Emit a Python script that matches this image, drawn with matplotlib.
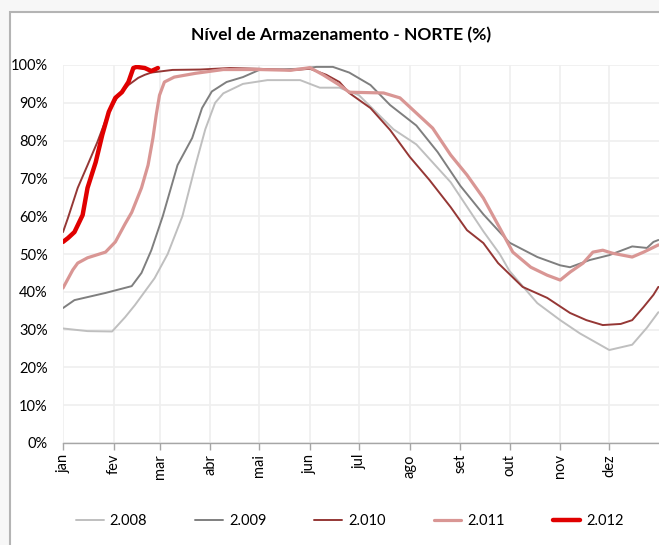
import matplotlib
matplotlib.use("Agg")
import matplotlib.pyplot as plt
from matplotlib.patches import Rectangle
from matplotlib.ticker import FuncFormatter

months = ["jan", "fev", "mar", "abr", "mai", "jun", "jul", "ago", "set", "out", "nov", "dez"]
month_start = [0, 31, 59, 90, 120, 151, 181, 212, 243, 273, 304, 334]

d2008 = [0, 15, 30, 38, 44, 56, 64, 73, 81, 87, 93, 98, 110, 125, 145, 151, 157, 169, 181,
         202, 216, 237, 257, 267, 273, 290, 304, 316, 334, 348, 357, 364]
v2008 = [30.3, 29.6, 29.5, 33.3, 36.5, 43.6, 50, 60, 73.5, 83, 90, 92.5, 95, 96, 96, 95, 94, 94, 92,
         83, 79, 69, 56, 50, 45.5, 37, 32.5, 29, 24.6, 26, 30.5, 34.6]

d2009 = [0, 7, 26, 42, 48, 54, 61, 70, 79, 85, 91, 100, 110, 120, 145, 155, 165, 175, 188,
         200, 216, 229, 243, 257, 267, 273, 290, 304, 310, 322, 334, 348, 357, 361, 364]
v2009 = [35.7, 37.8, 39.7, 41.5, 45, 51, 60, 73.5, 80.7, 88.6, 93, 95.5, 96.8, 98.7, 99, 99.5, 99.5, 98, 94.7,
         89.4, 84, 77, 68, 60.5, 55.8, 53, 49.2, 47, 46.5, 48.4, 49.7, 52, 51.6, 53.2, 53.7]

d2010 = [0, 3, 9, 15, 21, 28, 34, 40, 46, 50, 54, 67, 84, 102, 120, 139, 151, 161, 169, 175,
         188, 200, 212, 224, 237, 247, 257, 266, 281, 296, 310, 320, 330, 341, 348, 355, 361, 364]
v2010 = [55.8, 59.5, 67.5, 73.5, 79.6, 87.6, 92, 94.7, 96.6, 97.4, 98, 98.7, 98.8, 99.2, 99, 98.6, 99, 97.4, 95.5, 92.6,
         88.6, 82.8, 75.7, 69.6, 62.4, 56.3, 52.9, 47.6, 41.3, 38.4, 34.4, 32.5, 31.2, 31.5, 32.5, 36, 39.2, 41.3]

d2011 = [0, 6, 9, 15, 26, 32, 38, 42, 48, 52, 55, 57, 59, 62, 68, 81, 98, 120, 139, 151, 159, 169, 175,
         196, 206, 216, 226, 237, 247, 257, 267, 275, 286, 296, 304, 310, 318, 324, 330, 336, 348, 355, 364]
v2011 = [41, 45.8, 47.6, 49, 50.5, 53.2, 58, 61, 67.5, 73.5, 80.7, 86.8, 92, 95.5, 96.8, 97.8, 98.8, 98.8, 98.6, 99.3, 97.4, 94.7, 92.8,
         92.6, 91.3, 87.3, 83.3, 76.2, 70.9, 64.8, 56.9, 50.5, 46.5, 44.4, 43.1, 45.2, 47.6, 50.5, 51, 50.2, 49.2, 50.5, 52.4]

d2012 = [0, 3, 7, 12, 15, 20, 24, 28, 32, 36, 40, 43, 45, 50, 54, 58]
v2012 = [53.2, 54.2, 55.8, 60.3, 67.5, 74.3, 81.5, 87.6, 91.3, 92.8, 95.5, 99.2, 99.5, 99.2, 98.4, 99.2]

series = [
    ("2.008", d2008, v2008, "#bfbfbf", 1.4),
    ("2.009", d2009, v2009, "#7f7f7f", 1.4),
    ("2.010", d2010, v2010, "#953735", 1.4),
    ("2.011", d2011, v2011, "#d99694", 2.3),
    ("2.012", d2012, v2012, "#e00000", 3.2),
]

plt.rcParams['font.family'] = ['Lato', 'DejaVu Sans']

W, H = 659, 545
fig = plt.figure(figsize=(W / 100, H / 100), dpi=100)
fig.patch.set_facecolor("#f7f7f7")
fig.patches.append(Rectangle((9.5 / W, -0.1), 1.2, 1 - 11.5 / H + 0.1, transform=fig.transFigure,
                             facecolor="white", edgecolor="#b4b4b4", lw=1.5, zorder=-10))

left, right = 63 / W, 660 / W
bottom, top = 1 - 443 / H, 1 - 65 / H
ax = fig.add_axes([left, bottom, right - left, top - bottom])
ax.set_facecolor("none")

for name, d, v, c, lw in series:
    ax.plot(d, v, color=c, lw=lw, label=name, solid_joinstyle="round", solid_capstyle="round")

ax.set_xlim(0, 365)
ax.set_ylim(0, 100)
ax.set_yticks(range(0, 101, 10))
ax.yaxis.set_major_formatter(FuncFormatter(lambda y, p: f"{int(y)}%"))
ax.set_xticks(month_start)
ax.set_xticklabels(months, rotation=90, va="top", ha="center")
ax.tick_params(axis="x", length=5, color="#a6a6a6", width=1, labelsize=10.5, pad=3)
ax.tick_params(axis="y", length=0, labelsize=10.5, pad=11)
for s in ["top", "right", "left"]:
    ax.spines[s].set_visible(False)
ax.spines["bottom"].set_color("#a6a6a6")
ax.spines["bottom"].set_linewidth(1)
ax.grid(True, color="#efefef", lw=1.2)
ax.set_axisbelow(True)
ax.axvline(365, color="#efefef", lw=1.2, zorder=0)

fig.text(341 / W, 1 - 35 / H, "Nível de Armazenamento - NORTE (%)", ha="center", va="center",
         fontsize=12.6, fontweight="bold")

fig.legend(loc="center", bbox_to_anchor=(350 / W, 1 - 521 / H), ncol=5, frameon=False,
           fontsize=10.5, handlelength=1.9, columnspacing=3.3, handletextpad=0.4)

fig.savefig("out.png", dpi=100, facecolor=fig.get_facecolor())
